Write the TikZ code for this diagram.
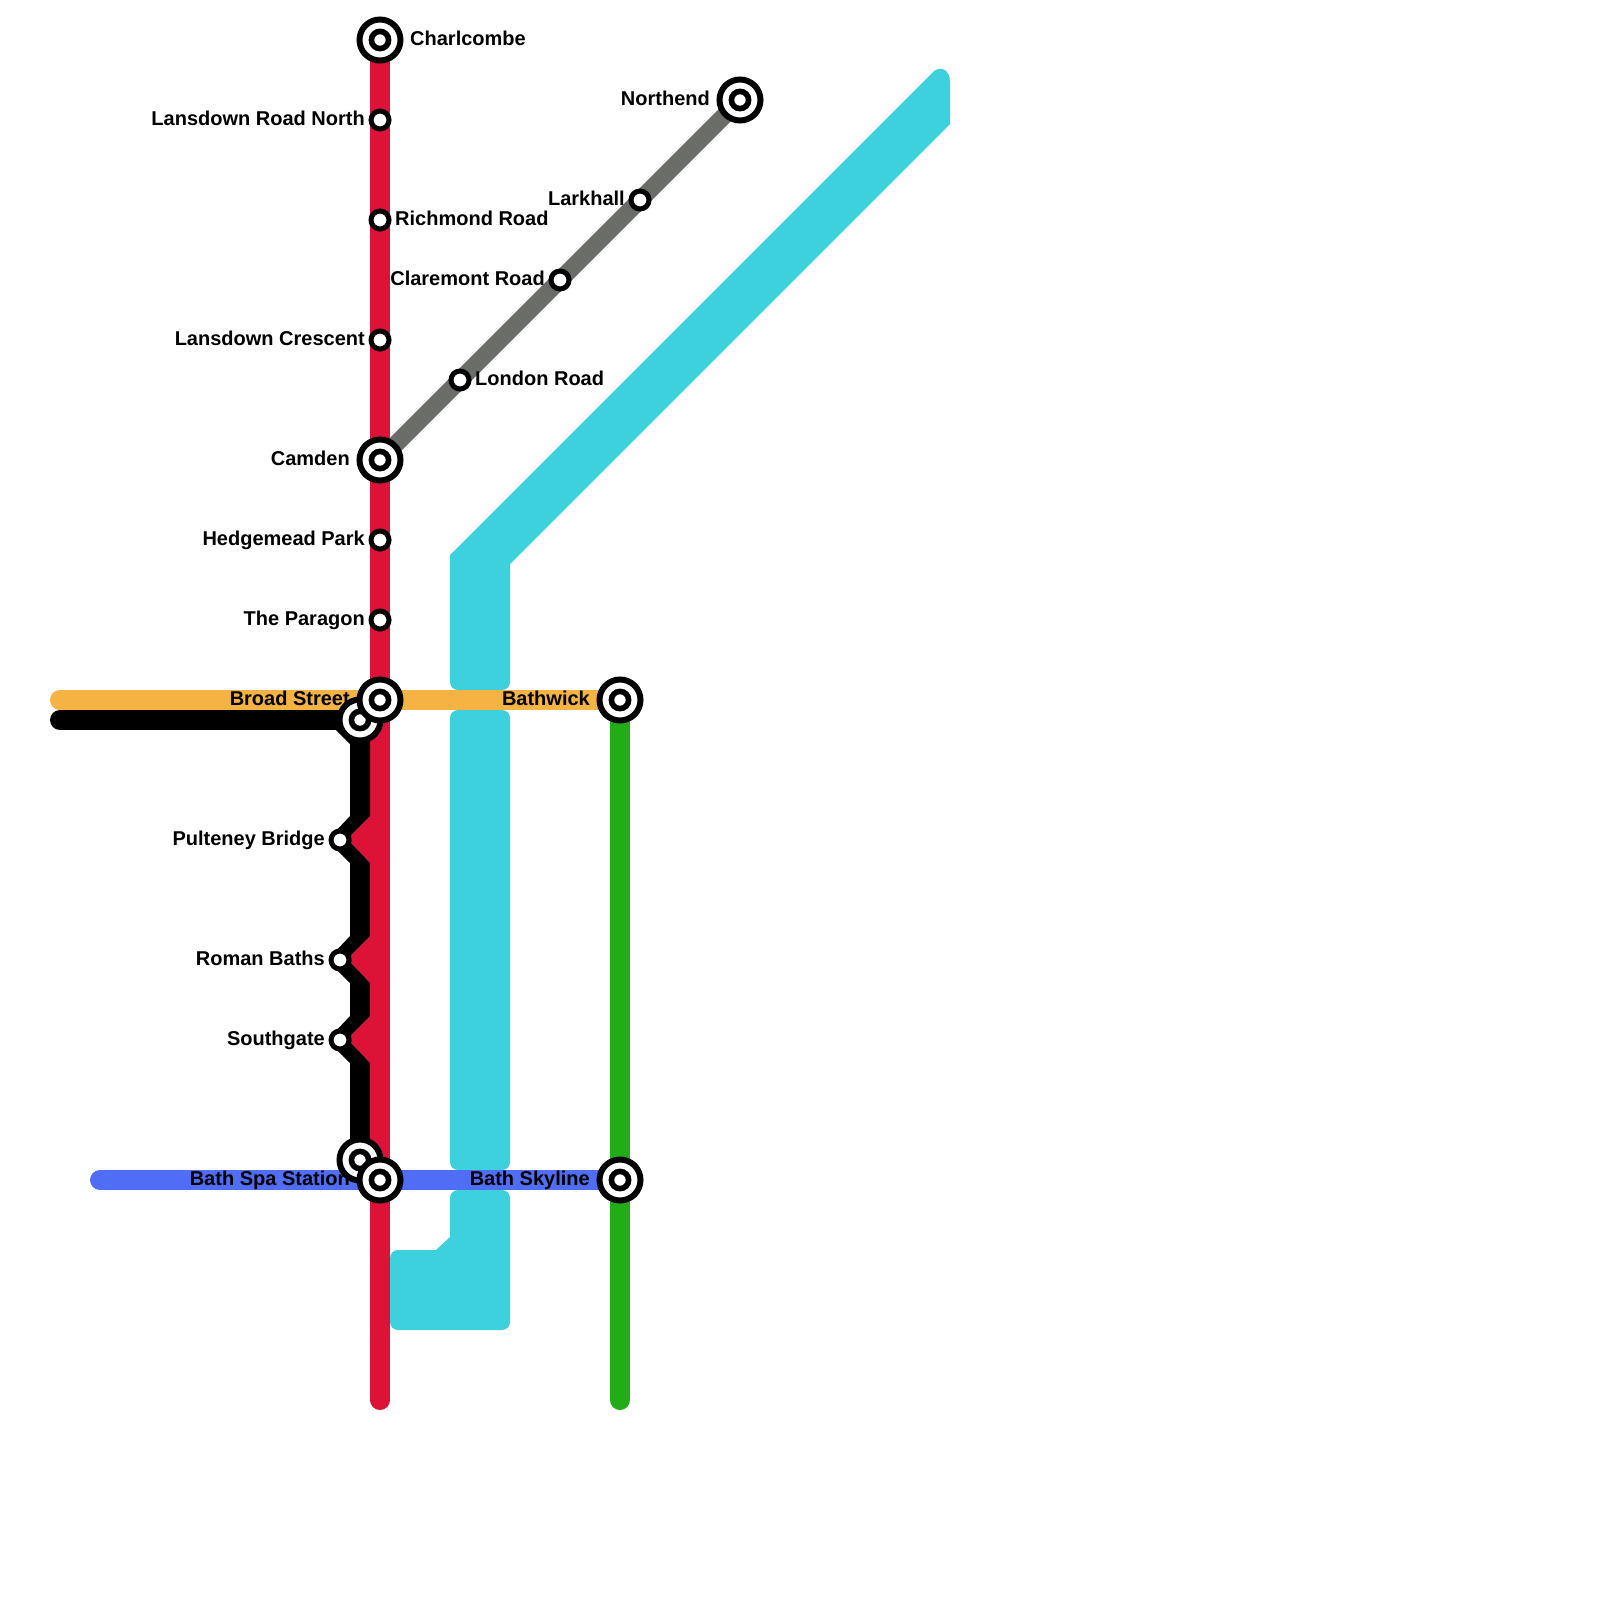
\documentclass[tikz,border=0pt]{standalone}
\usepackage{fontspec}
\setmainfont{Liberation Sans}
\usetikzlibrary{backgrounds,positioning}
\definecolor{crimsonline}{HTML}{DC1237}
\definecolor{amberline}{HTML}{F4B343}
\definecolor{blueline}{HTML}{4F6DF5}
\definecolor{greenline}{HTML}{22AD18}
\definecolor{greyline}{HTML}{6A6C68}
\definecolor{riverfill}{HTML}{3DD1DD}
\tikzset{
  track/.style={line width=20pt, line cap=round},
  trunk/.style={line width=20pt, draw=black},
  stop/.style={circle, draw=black, fill=white, line width=5pt, minimum size=18pt, inner sep=0pt},
  hub/.style={circle, draw=black, fill=white, line width=6pt, minimum size=41pt, inner sep=0pt,
    path picture={\draw[black, line width=5.6pt] (path picture bounding box.center) circle (8.6pt);}},
  lbl/.style={font=\bfseries\fontsize{20pt}{20pt}\selectfont, inner sep=0pt, text height=14.3pt, text depth=0pt, yshift=2pt},
  river/.style={fill=riverfill, rounded corners=8pt},
  jog/.pic={
    \fill[crimsonline] (30,-24) -- (11,-5) -- (11,3) -- (30,23) -- cycle;
    \fill[black] (10,-24) -- (30,-24) -- (11,-5) -- (11,3) -- (30,23) -- (10,23) -- (-7,6) -- (-7,-6) -- cycle;
  }
}
\begin{document}
\begin{tikzpicture}[x=1pt, y=-1pt]
  \useasboundingbox (0,0) rectangle (1600,1600);

  % stations on the red line
  \node[hub] (charlcombe) at (380,40) {};
  \node[stop] (lansdownnorth) at (380,120) {};
  \node[stop] (richmond) at (380,220) {};
  \node[stop] (crescent) at (380,340) {};
  \node[hub] (camden) at (380,460) {};
  \node[stop] (hedgemead) at (380,540) {};
  \node[stop] (paragon) at (380,620) {};

  % stations on the grey line
  \node[stop] (london) at (460,380) {};
  \node[stop] (claremont) at (560,280) {};
  \node[stop] (larkhall) at (640,200) {};
  \node[hub] (northend) at (740,100) {};

  % stations on the black line
  \node[hub] (broadblack) at (360,720) {};
  \node[stop] (pulteney) at (340,840) {};
  \node[stop] (roman) at (340,960) {};
  \node[stop] (southgate) at (340,1040) {};
  \node[hub] (spablack) at (360,1160) {};

  % the interchanges
  \node[hub] (broad) at (380,700) {};
  \node[hub] (bathwick) at (620,700) {};
  \node[hub] (spa) at (380,1180) {};
  \node[hub] (skyline) at (620,1180) {};

  % free line ends
  \coordinate (redend) at (380,1400);
  \coordinate (greenend) at (620,1400);
  \coordinate (amberend) at (60,700);
  \coordinate (blueend) at (100,1180);
  \coordinate (blackend) at (60,720);
  \coordinate (blackbend) at (340,720);

  \begin{scope}[on background layer]
    \fill[river] (450,690) [sharp corners] -- (450,555) -- (933,72) .. controls (939,66) and (950,68) .. (950,82) -- (950,124) -- (510,564) [rounded corners=8pt] -- (510,690) -- cycle;
    \fill[river] (450,710) rectangle (510,1170);
    \fill[river] (450,1190) -- (510,1190) -- (510,1330) -- (390,1330) -- (390,1250) [sharp corners] -- (436,1250) -- (450,1237) [rounded corners=8pt] -- cycle;

    \draw[track, amberline] (amberend) -- (bathwick.center);
    \draw[track, blueline] (blueend) -- (skyline.center);
    \draw[track, greenline] (bathwick.center) -- (greenend);
    \draw[greyline, line width=17pt] (camden.center) -- (northend.center);
    \draw[track, crimsonline] (charlcombe.center) -- (redend);

    \draw[track, black] (blackend) -- (blackbend);
    \draw[trunk] (blackbend) -- (360,740) -- ([shift={(20,-24)}]pulteney.center);
    \draw[trunk] ([shift={(20,23)}]pulteney.center) -- ([shift={(20,-24)}]roman.center);
    \draw[trunk] ([shift={(20,23)}]roman.center) -- ([shift={(20,-24)}]southgate.center);
    \draw[trunk] ([shift={(20,23)}]southgate.center) -- (spablack.center);
    \pic at (pulteney.center) {jog};
    \pic at (roman.center) {jog};
    \pic at (southgate.center) {jog};
  \end{scope}

  \node[lbl, right=30pt of charlcombe.center] (lcharlcombe) {Charlcombe};
  \node[lbl, left=15pt of lansdownnorth.center] (llansdownnorth) {Lansdown Road North};
  \node[lbl, right=15pt of richmond.center] (lrichmond) {Richmond Road};
  \node[lbl, left=15pt of crescent.center] (lcrescent) {Lansdown Crescent};
  \node[lbl, left=30pt of camden.center] (lcamden) {Camden};
  \node[lbl, left=15pt of hedgemead.center] (lhedgemead) {Hedgemead Park};
  \node[lbl, left=15pt of paragon.center] (lparagon) {The Paragon};
  \node[lbl, right=15pt of london.center] (llondon) {London Road};
  \node[lbl, left=15pt of claremont.center] (lclaremont) {Claremont Road};
  \node[lbl, left=15pt of larkhall.center] (llarkhall) {Larkhall};
  \node[lbl, left=30pt of northend.center] (lnorthend) {Northend};
  \node[lbl, left=30pt of broad.center] (lbroad) {Broad Street};
  \node[lbl, left=30pt of bathwick.center] (lbathwick) {Bathwick};
  \node[lbl, left=15pt of pulteney.center] (lpulteney) {Pulteney Bridge};
  \node[lbl, left=15pt of roman.center] (lroman) {Roman Baths};
  \node[lbl, left=15pt of southgate.center] (lsouthgate) {Southgate};
  \node[lbl, left=30pt of spa.center] (lspa) {Bath Spa Station};
  \node[lbl, left=30pt of skyline.center] (lskyline) {Bath Skyline};
\end{tikzpicture}
\end{document}
